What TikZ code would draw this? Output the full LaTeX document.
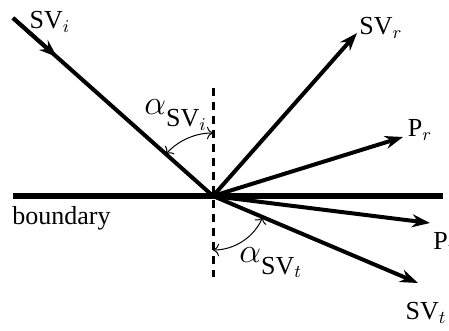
\documentclass[tikz,border=0pt]{standalone}
\usepackage{fontspec}
\setmainfont{Liberation Serif}
\usepackage{tikz}
\usetikzlibrary{arrows.meta, positioning, angles}
\tikzset{
  wv-ray/.style={line width=2pt, draw=black},
  wv-arrow/.style={wv-ray, -{Stealth[length=9pt, width=6.5pt]}},
  wv-bound/.style={line width=3pt, draw=black},
  wv-normal/.style={line width=1.5pt, dash pattern=on 4pt off 3pt},
  wv-arc/.style={draw, line width=0.5pt, {To[length=3pt]}-{To[length=3pt]}},
  wv-label/.style={inner sep=0pt, font=\fontsize{13}{15}\selectfont},
}
\newcommand{\wvangle}[1]{{\fontsize{17}{19}\selectfont$\alpha$}\raisebox{-6pt}{SV$_#1$}}
\begin{document}
\begin{tikzpicture}[x=0.5pt, y=-0.5pt]
  \useasboundingbox (0,0) rectangle (449,331);
  \coordinate (o) at (213,196);
  \coordinate (in) at (13,18);
  \coordinate (inmid) at (57,57);
  \coordinate (bl) at (13,196);
  \coordinate (br) at (443,196);
  \coordinate (top) at (213,88);
  \coordinate (bot) at (213,277);
  \coordinate (svr) at (357,33);
  \coordinate (pr) at (403,137);
  \coordinate (pt) at (430,223);
  \coordinate (svt) at (418,283);

  \draw[wv-bound] (bl) -- (br);
  \draw[wv-normal] (top) -- (bot);
  \draw[wv-ray] (in) -- (o);
  \draw[wv-arrow] (in) -- (inmid);
  \draw[wv-arrow] (o) -- (svr);
  \draw[wv-arrow] (o) -- (pr);
  \draw[wv-arrow] (o) -- (pt);
  \draw[wv-arrow] (o) -- (svt);

  \pic[wv-arc, angle radius=31.5pt] {angle = top--o--in};
  \pic[wv-arc, angle radius=27pt] {angle = bot--o--svt};

  \node[wv-label] (lsvi) at (50,22) {SV$_i$};
  \node[wv-label] (lsvr) at (381,28) {SV$_r$};
  \node[wv-label] (lpr) at (420,130) {P$_r$};
  \node[wv-label, anchor=west] (lpt) at (433,243) {P$_t$};
  \node[wv-label] (lsvt) at (426,313) {SV$_t$};
  \node[wv-label, anchor=west] (lbd) at (12,218) {boundary};
  \node[wv-label, anchor=base west] (lai) at (144,115) {\wvangle{i}};
  \node[wv-label, anchor=base west] (lat) at (239,262) {\wvangle{t}};
\end{tikzpicture}
\end{document}
